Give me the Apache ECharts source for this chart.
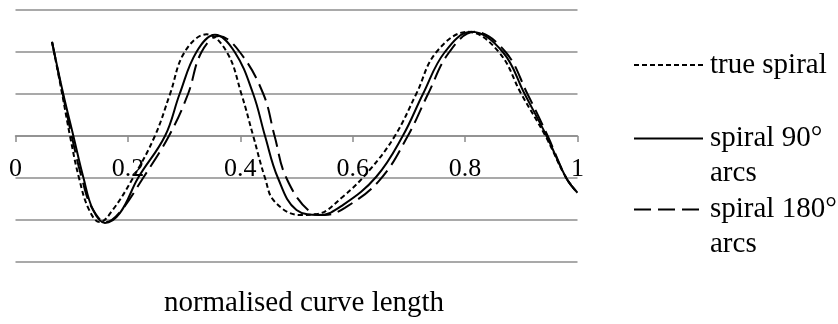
<!DOCTYPE html>
<html>
<head>
<meta charset="utf-8">
<script src="https://cdn.jsdelivr.net/npm/echarts@6/dist/echarts.min.js"></script>
<style>
  html, body { margin: 0; padding: 0; background: #fff; }
  #chart { width: 838px; height: 324px; }
</style>
</head>
<body>
<div id="chart"></div>
<script>
// Series names
const seriesNames = ['true spiral', 'spiral 90°\narcs', 'spiral 180°\narcs'];

// true spiral (short dashes)
const xTrue = [0.065, 0.083, 0.097, 0.113, 0.131, 0.150, 0.173, 0.209, 0.248, 0.275, 0.301, 0.340, 0.376, 0.402, 0.423, 0.444, 0.461, 0.506, 0.536, 0.582, 0.630, 0.675, 0.713, 0.749, 0.805, 0.860, 0.900, 0.943, 0.980, 1.000];
const yTrue = [2.24, 1.00, 0.00, -1.00, -1.76, -2.05, -1.76, -1.00, 0.00, 1.00, 2.00, 2.42, 2.00, 1.00, 0.00, -1.00, -1.56, -1.88, -1.86, -1.45, -0.81, 0.00, 1.00, 2.00, 2.48, 2.00, 1.00, 0.00, -1.00, -1.35];

// spiral 90° arcs (solid)
const x90 = [0.065, 0.085, 0.103, 0.121, 0.138, 0.159, 0.186, 0.218, 0.266, 0.292, 0.322, 0.355, 0.390, 0.423, 0.444, 0.467, 0.500, 0.541, 0.583, 0.642, 0.689, 0.725, 0.764, 0.811, 0.867, 0.906, 0.945, 0.980, 1.000];
const y90 = [2.24, 1.00, 0.00, -1.00, -1.76, -2.07, -1.83, -1.00, 0.00, 1.00, 2.00, 2.41, 2.00, 1.00, 0.00, -1.00, -1.76, -1.88, -1.64, -0.97, 0.00, 1.00, 2.00, 2.48, 2.00, 1.00, 0.00, -1.00, -1.35];

// spiral 180° arcs (long dashes)
const x180 = [0.065, 0.084, 0.100, 0.118, 0.136, 0.161, 0.186, 0.227, 0.273, 0.307, 0.331, 0.362, 0.399, 0.441, 0.461, 0.482, 0.524, 0.550, 0.586, 0.648, 0.698, 0.734, 0.772, 0.817, 0.872, 0.911, 0.947, 0.980, 1.000];
const y180 = [2.24, 1.00, 0.00, -1.00, -1.71, -2.05, -1.81, -1.00, 0.00, 1.00, 2.00, 2.38, 2.00, 1.00, 0.00, -1.00, -1.80, -1.88, -1.71, -1.05, 0.00, 1.00, 2.00, 2.48, 2.00, 1.00, 0.00, -1.00, -1.35];

// Axis
const xTickLabels = ['0', '0.2', '0.4', '0.6', '0.8', '1'];
const xAxisTitle = 'normalised curve length';

const zip = (xs, ys) => xs.map((x, i) => [x, ys[i]]);

const FONT = "'Liberation Serif', 'Times New Roman', serif";
const GRID_COLOR = '#8c8c8c';

const chart = echarts.init(document.getElementById('chart'), null, { renderer: 'canvas' });

const legendText = { fontFamily: FONT, fontSize: 29, color: '#000', lineHeight: 35, padding: [0, 0, 0, 2] };
const legendBase = {
  orient: 'vertical',
  left: 633,
  padding: 0,
  itemWidth: 69,
  itemHeight: 30,
  itemGap: 0,
  itemStyle: { opacity: 0 },
  textStyle: legendText,
  selectedMode: false
};

chart.setOption({
  animation: false,
  backgroundColor: '#fff',
  title: {
    text: xAxisTitle,
    left: 304,
    top: 287,
    padding: 0,
    textAlign: 'center',
    textStyle: { fontFamily: FONT, fontSize: 29, fontWeight: 'normal', color: '#000', lineHeight: 32 }
  },
  grid: { left: 15.5, right: 260.5, top: 10, bottom: 62, containLabel: false, outerBoundsMode: 'none' },
  xAxis: {
    type: 'value',
    min: 0, max: 1, interval: 0.2,
    offset: -126,
    axisLine: { onZero: false, lineStyle: { color: GRID_COLOR, width: 1.5 } },
    axisTick: { show: true, length: 6, lineStyle: { color: GRID_COLOR, width: 1.5 } },
    axisLabel: {
      margin: 20,
      fontFamily: FONT, fontSize: 26, color: '#000',
      formatter: (v) => xTickLabels[Math.round(v / 0.2)]
    },
    splitLine: { show: false }
  },
  yAxis: {
    type: 'value',
    min: -3, max: 3, interval: 1,
    axisLine: { show: false, onZero: false },
    axisTick: { show: false },
    axisLabel: { show: false },
    splitLine: { show: true, lineStyle: { color: GRID_COLOR, width: 1.5 } }
  },
  legend: [
    Object.assign({}, legendBase, { top: 50, data: [seriesNames[0]],
      textStyle: Object.assign({}, legendText, { lineHeight: 30 }) }),
    Object.assign({}, legendBase, { top: 86, data: [seriesNames[1]], formatter: (n) => '\n' + n }),
    Object.assign({}, legendBase, { top: 157, data: [seriesNames[2]], formatter: (n) => '\n' + n })
  ],
  series: [
    {
      name: seriesNames[0], type: 'line', data: zip(xTrue, yTrue),
      smooth: 0.4, symbol: 'none', z: 3,
      lineStyle: { color: '#000', width: 2, type: [5, 3] }
    },
    {
      name: seriesNames[1], type: 'line', data: zip(x90, y90),
      smooth: 0.4, symbol: 'none', z: 4,
      lineStyle: { color: '#000', width: 2, type: 'solid' }
    },
    {
      name: seriesNames[2], type: 'line', data: zip(x180, y180),
      smooth: 0.4, symbol: 'none', z: 2,
      lineStyle: { color: '#000', width: 2, type: [17, 7] }
    }
  ]
});
</script>
</body>
</html>
